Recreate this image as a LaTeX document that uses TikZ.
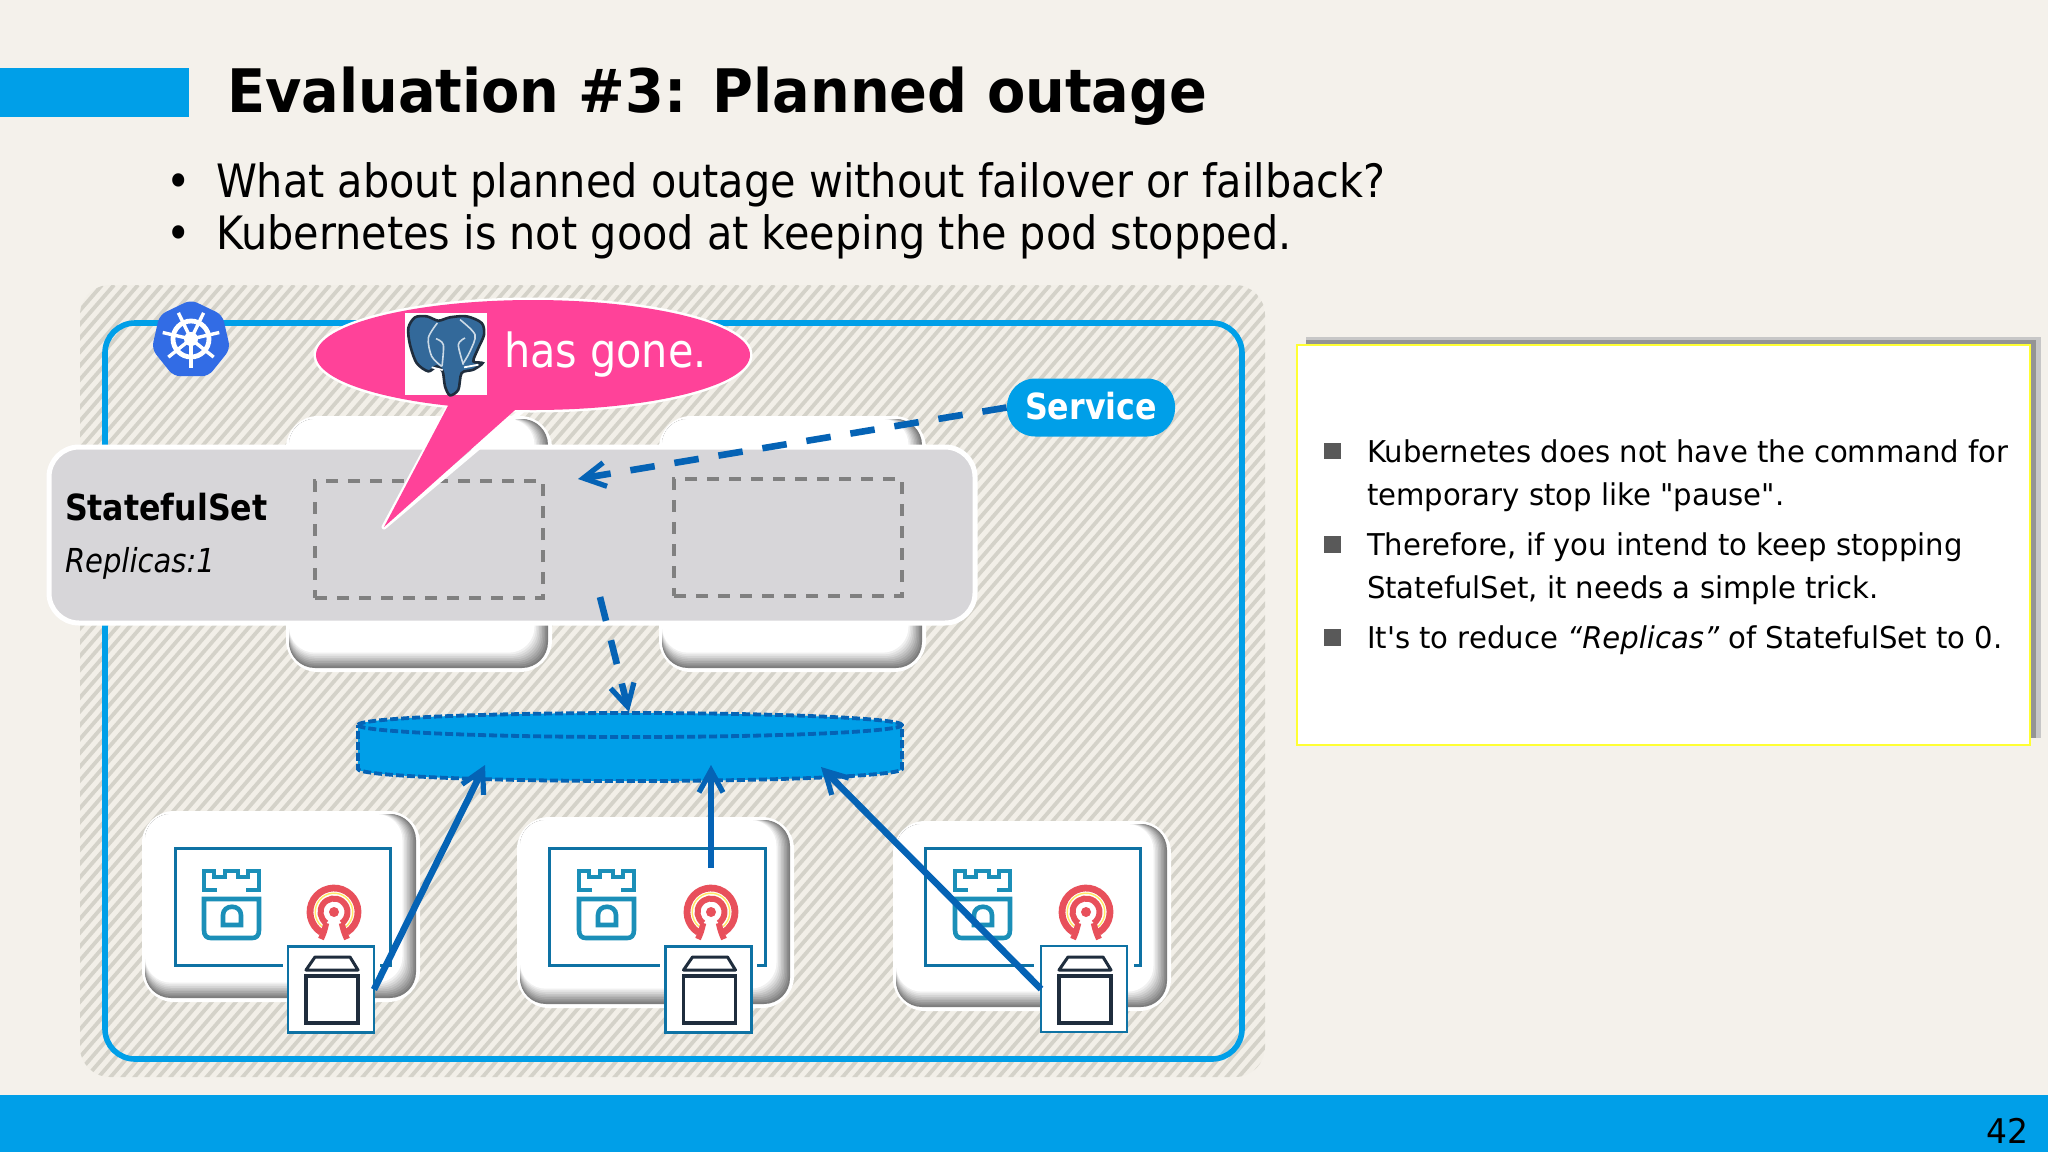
\documentclass[tikz,border=0pt]{standalone}
\usepackage{fontspec}
\setmainfont{DejaVu Sans}
\newfontfamily\bodyf[FakeStretch=0.88]{DejaVu Sans}
\newfontfamily\titlef[FakeStretch=0.93]{DejaVu Sans}
\newfontfamily\leadf[FakeStretch=0.90]{DejaVu Sans}
\newfontfamily\notef[FakeStretch=0.97]{DejaVu Sans}
\usetikzlibrary{arrows.meta,shapes.geometric}
\definecolor{pagebg}{HTML}{F4F1EB}
\definecolor{barblue}{HTML}{009FE8}
\definecolor{linkblue}{HTML}{0563B5}
\definecolor{hatchc}{HTML}{D4D2C9}
\definecolor{hatchbg}{HTML}{F2EFE8}
\definecolor{setgray}{HTML}{D7D6D9}
\definecolor{dashgray}{HTML}{808080}
\definecolor{bubble}{HTML}{FF4299}
\definecolor{innerblue}{HTML}{0E72A4}
\definecolor{towerc}{HTML}{1B8FB8}
\definecolor{cephc}{HTML}{E8505B}
\definecolor{cubec}{HTML}{1F2D3D}
\definecolor{k8sblue}{HTML}{326CE5}
\definecolor{pgblue}{HTML}{33699A}
\tikzset{
  txt/.style={anchor=base west,inner sep=0pt,outer sep=0pt,align=left},
  halo/.style={draw=white,fill=white,line width=2pt,rounded corners=15pt,inner sep=0pt,outer sep=0pt},
  setdash/.style={draw=dashgray,line width=1.6pt,dash pattern=on 6pt off 5pt},
  barbhead/.style={-{Straight Barb[length=11pt,width=12pt,line width=2.6pt]}},
  dlink/.style={draw=linkblue,line width=3.3pt,dash pattern=on 12.3pt off 10pt,barbhead},
  slink/.style={draw=linkblue,line width=3.3pt,barbhead},
  boxnode/.style={draw=innerblue,fill=white,line width=1.2pt,minimum width=43pt,minimum height=43pt,inner sep=0pt,outer sep=0pt},
  tower/.pic={
    \begin{scope}[line width=2.3pt,line join=miter]
      \draw[towerc] (15,21)--(2,21)--(2,2)--(12,2)--(12,8)--(23,8)--(23,2)--(36,2)--(36,8)--(46,8)--(46,2)--(57,2)--(57,21)--(44,21);
      \draw[towerc] (2,30)--(57,30)--(57,61) .. controls (57,67) and (54,69) .. (50,69)--(9,69) .. controls (5,69) and (2,67) .. (2,61)--cycle;
      \draw[towerc] (21,56)--(21,46) .. controls (21,35) and (39,35) .. (39,46)--(39,56)--cycle;
    \end{scope}},
  ceph/.pic={
    \draw[cephc,line width=3.4pt] (122:24) arc (122:418:24);
    \draw[cephc,line width=3pt] (125:13.5) arc (125:415:13.5);
    \fill[cephc] (0,0) circle (5);
    \draw[cephc,line width=3pt] (55:13.5) .. controls (10,20) .. (13,27);
    \draw[cephc,line width=3pt] (125:13.5) .. controls (-10,20) .. (-13,27);
    \draw[orange!30!yellow!60,line width=.7pt] (130:18.8) arc (130:410:18.8);
  },
  cubeicon/.pic={
    \draw[cubec,line width=1.5pt,line join=round,fill=white] (18,24)--(27,11)--(62,11)--(70,24)--cycle;
    \draw[cubec,line width=1.6pt,fill=white] (18,30) rectangle (70,77);
  }
}
\newcommand{\podshape}[5]{%
  \pgfmathsetmacro{\podw}{(#4-#2)*0.5-1}%
  \pgfmathsetmacro{\podh}{(#5-#3)*0.5-1}%
  \node[halo,minimum width=\podw pt,minimum height=\podh pt] (#1) at ({(#2+#4)/2},{(#3+#5)/2}) {};
  \foreach \ii in {0,...,9}{
    \pgfmathsetmacro{\pp}{40+\ii*60/9}
    \fill[white!\pp!black!85!white,rounded corners=13pt] ({#2+2},{#3+2}) rectangle ({#4-3-\ii*1.5},{#5-3-\ii*1.7});
  }
}
\begin{document}
\begin{tikzpicture}[x=0.5pt,y=-0.5pt]
\useasboundingbox (0,0) rectangle (2048,1152);
\fill[pagebg] (0,0) rectangle (2048,1152);
% bars
\fill[barblue] (0,68) rectangle (189,117);
\fill[barblue] (0,1095) rectangle (2048,1152);
% title
\node[txt] (title) at (227,112) {\titlef\fontsize{30}{36}\selectfont\bfseries Evaluation \#3: Planned outage};
\node[txt] (b1) at (166,197) {\leadf\fontsize{23}{28}\selectfont •};
\node[txt] (l1) at (216,197) {\leadf\fontsize{23}{28}\selectfont What about planned outage without failover or failback?};
\node[txt] (b2) at (166,249) {\leadf\fontsize{23}{28}\selectfont •};
\node[txt] (l2) at (216,249) {\leadf\fontsize{23}{28}\selectfont Kubernetes is not good at keeping the pod stopped.};
% hatch panel
\begin{scope}
  \clip[rounded corners=15pt] (80,285) rectangle (1265,1077);
  \fill[hatchbg] (80,285) rectangle (1265,1077);
  \foreach \hx in {-600,-588,...,1270}{
    \draw[hatchc,line width=1.9pt] (\hx,1080) -- ({\hx+690},285);
  }
\end{scope}
% frame
\draw[barblue,line width=2.8pt,rounded corners=15pt] (105,323) rectangle (1242,1059);
% kubernetes logo
\node[regular polygon,regular polygon sides=7,fill=k8sblue,draw=k8sblue,line width=2pt,rounded corners=3pt,minimum size=38pt,inner sep=0pt] (k8s) at (191,340) {};
\begin{scope}[shift={(191,339)}]
  \draw[white,line width=2.4pt] (0,0) circle (18);
  \fill[white] (0,0) circle (7);
  \fill[k8sblue] (0,0) circle (2.5);
  \foreach \aa in {90,141.4,192.9,244.3,295.7,347.1,38.6}{
    \draw[white,line width=1.7pt] (0,0) -- (\aa:29);
  }
\end{scope}
% upper pods
\podshape{podU1}{287}{417}{551}{671}
\podshape{podU2}{660}{417}{925}{671}
% statefulset panel
\node[draw=white,fill=setgray,line width=2.5pt,rounded corners=15pt,minimum width=463pt,minimum height=88pt,inner sep=0pt,outer sep=0pt] (sset) at (512,535) {};
\node[txt] (sstitle) at (65,520) {\bodyf\fontsize{18}{22}\selectfont\bfseries StatefulSet};
\node[txt] (ssrep) at (65,572) {\bodyf\fontsize{16.5}{18}\selectfont\itshape Replicas:1};
\node[setdash,minimum width=114pt,minimum height=58.5pt,inner sep=0pt] (slot1) at (429,539.5) {};
\node[setdash,minimum width=114pt,minimum height=58.5pt,inner sep=0pt] (slot2) at (788,537.5) {};
% cylinder
\fill[barblue] (358,725) arc (180:360:272 and 12) -- (902,769) arc (0:180:272 and 12) -- cycle;
\draw[linkblue,line width=1.9pt,dash pattern=on 4pt off 1.5pt] (358,725) arc (180:360:272 and 12) -- (902,769) arc (0:180:272 and 12) -- cycle;
\draw[linkblue,line width=1.9pt,dash pattern=on 4pt off 1.5pt] (358,725) arc (180:0:272 and 12);
\coordinate (cyltop) at (629,712);
\coordinate (cylL) at (485,765);
\coordinate (cylM) at (711,765);
\coordinate (cylR) at (821,767);
% lower pods
\podshape{podA}{143}{812}{419}{1001}
\podshape{podB}{518}{818}{793}{1007}
\podshape{podC}{894}{822}{1170}{1010}
% inner rects
\node[draw=innerblue,line width=1.5pt,fill=white,minimum width=107.5pt,minimum height=58.5pt,inner sep=0pt] (inA) at (282.5,906.5) {};
\node[draw=innerblue,line width=1.5pt,fill=white,minimum width=108pt,minimum height=58.5pt,inner sep=0pt] (inB) at (657,906.5) {};
\node[draw=innerblue,line width=1.5pt,fill=white,minimum width=107.5pt,minimum height=58.5pt,inner sep=0pt] (inC) at (1032.5,906.5) {};
\pic at (202,869) {tower};
\pic at (577,869) {tower};
\pic at (953,869) {tower};
\pic at (334,912) {ceph};
\pic at (711,912) {ceph};
\pic at (1086,912) {ceph};
% white gaps in the rect lines beside the small boxes
\fill[white] (283,958) rectangle (380,970);
\fill[white] (660,958) rectangle (757,970);
\fill[white] (1034,958) rectangle (1134,970);
\coordinate (armB) at (711,868);
% connectors
\node[boxnode] (boxA) at (331,989.5) {};
\node[boxnode] (boxB) at (708.5,989.5) {};
\node[boxnode] (boxC) at (1084,989) {};
\pic at (288,946) {cubeicon};
\pic at (665.5,946) {cubeicon};
\pic at (1041,946) {cubeicon};
\draw[slink] (boxA.east) -- (cylL);
\draw[slink] (armB) -- (cylM);
\draw[slink] (boxC.west) -- (cylR);
% service
\node[fill=barblue,rounded corners=14pt,minimum width=84pt,minimum height=29pt,inner sep=0pt] (service) at (1091,407.5) {};
\node[anchor=base,inner sep=0pt,text=white] (servicet) at (1091,419) {\bodyf\fontsize{18}{20}\selectfont\bfseries Service};
\coordinate (headU) at (578,479);
\coordinate (tailD) at (600,597);
\draw[dlink] (service.west) -- (headU);
\draw[dlink] (tailD) -- (cyltop);
% bubble
\draw[white,line width=2.5pt,line join=round] (533,355) ellipse (217 and 55);
\draw[white,line width=2.5pt,line join=round] (450,404) -- (384,527) -- (524,409);
\fill[bubble] (533,355) ellipse (217 and 55);
\fill[bubble] (450,402) -- (384,527) -- (524,402) -- cycle;
\fill[white] (405,313) rectangle (486.5,395);
\begin{scope}[shift={(400,308)},x=0.1667pt,y=-0.1667pt]
  \draw[fill=pgblue,draw=cubec,line width=1.3pt] plot[smooth cycle] coordinates {(25,60)(45,28)(80,25)(115,38)(150,28)(200,25)(245,45)(252,80)(235,120)(220,160)(248,165)(220,185)(185,195)(175,245)(150,262)(135,235)(128,190)(110,175)(85,190)(50,165)(30,110)};
  \draw[white!75!pgblue,line width=.8pt] plot[smooth] coordinates {(112,45)(85,90)(95,145)(125,175)};
  \draw[white!75!pgblue,line width=.8pt] plot[smooth] coordinates {(108,92)(130,110)(126,175)};
  \draw[white!75!pgblue,line width=.8pt] plot[smooth] coordinates {(180,35)(225,80)(210,130)(190,165)};
  \draw[white!75!pgblue,line width=.8pt] plot[smooth] coordinates {(195,90)(175,110)(190,170)};
  \draw[white,line width=.9pt] (95,178) -- (128,186);
  \draw[white,line width=.9pt] (192,178) -- (235,170);
\end{scope}
\node[txt,text=white] (gone) at (504,367) {\bodyf\fontsize{23.5}{28}\selectfont has gone.};
% note box
\fill[black!22] (1306,337) rectangle (2041,738);
\fill[black!42] (1306,340) rectangle (2036,738);
\node[draw={rgb,255:red,255;green,255;blue,51},fill=white,line width=1.3pt,minimum width=366.5pt,minimum height=200pt,inner sep=0pt] (note) at (1663.5,545) {};
\fill[black!65] (1324,443) rectangle (1341,459);
\fill[black!65] (1324,536) rectangle (1341,553);
\fill[black!65] (1324,629) rectangle (1341,646);
\node[txt] (n1) at (1367,462) {\notef\fontsize{15}{18}\selectfont Kubernetes does not have the command for};
\node[txt] (n2) at (1367,505) {\notef\fontsize{15}{18}\selectfont temporary stop like "pause".};
\node[txt] (n3) at (1367,555) {\notef\fontsize{15}{18}\selectfont Therefore, if you intend to keep stopping};
\node[txt] (n4) at (1367,598) {\notef\fontsize{15}{18}\selectfont StatefulSet, it needs a simple trick.};
\node[txt] (n5) at (1367,648) {\notef\fontsize{15}{18}\selectfont It's to reduce {\itshape “Replicas”} of StatefulSet to 0.};
% page number
\node[txt] (page) at (1986,1143) {\notef\fontsize{17}{20}\selectfont 42};
\end{tikzpicture}
\end{document}
